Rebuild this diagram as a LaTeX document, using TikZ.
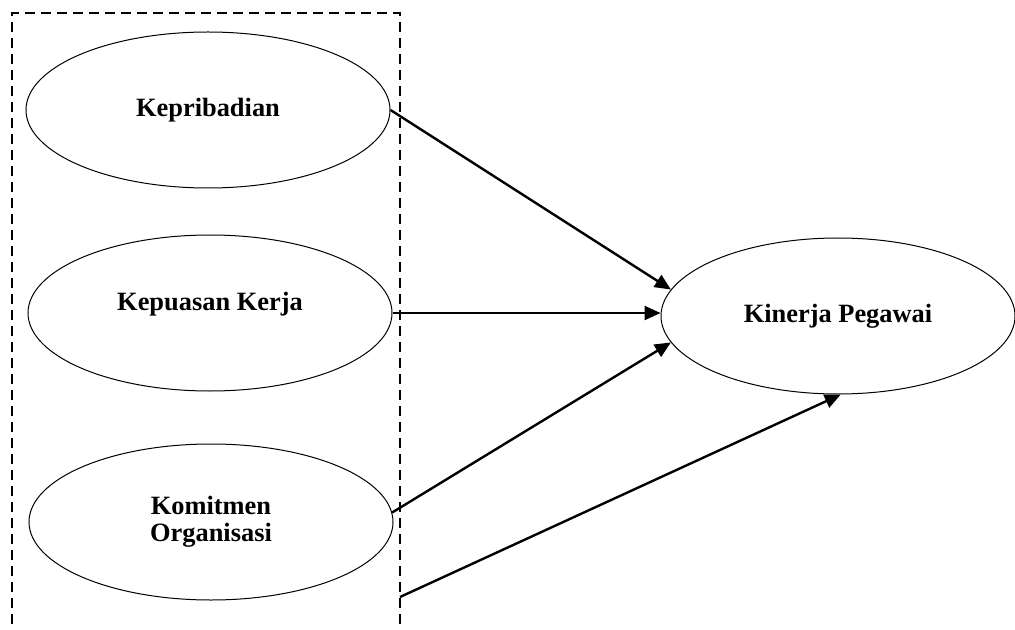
\documentclass[tikz,border=0pt]{standalone}
\usepackage{fontspec}
\setmainfont{Liberation Serif}
\usetikzlibrary{shapes.geometric,arrows.meta}

\tikzset{
	var/.style={draw, ellipse, line width=0.5pt, inner sep=0pt,
		minimum width=182pt, minimum height=78pt, align=center,
		font=\fontsize{13.2}{13.5}\selectfont\bfseries},
	path/.style={line width=1.2pt, -{Triangle[length=8pt,width=7pt]}},
	group/.style={line width=0.75pt, dash pattern=on 5pt off 3pt}
}

\begin{document}
\begin{tikzpicture}[x=0.5pt, y=-0.5pt]
\useasboundingbox (0,0) rectangle (1015,630);

% group of independent variables
\draw[group] (12,640) -- (12,13) -- (400,13) -- (400,640);
\coordinate (g) at (400,597);

\node[var] (kep) at (208,110) {Kepribadian};
\node[var, text depth=12pt] (kpk) at (210,313) {Kepuasan Kerja};
\node[var] (kom) at (211,522) {Komitmen\\Organisasi};
\node[var, minimum width=177pt] (kin) at (838,316) {Kinerja Pegawai};

\draw[path] (kep.east) -- (kin.171);
\draw[path] (kpk.east) -- (kpk.east -| kin.west);
\draw[path] (kom.3) -- (kin.189);
\draw[path] (g) -- (kin.272);
%\draw[path] (kom.east) -- (kin.south);
\end{tikzpicture}
\end{document}
